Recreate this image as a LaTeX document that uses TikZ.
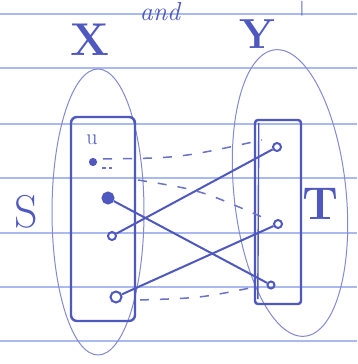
\documentclass[tikz,border=0pt]{standalone}
\usepackage{tikz}
\usetikzlibrary{shapes,positioning,calc}
\definecolor{pen}{RGB}{78,88,190}
\definecolor{paperline}{RGB}{170,186,238}

\begin{document}
\begin{tikzpicture}[x=1pt,y=-1pt,
  rule/.style={paperline, line width=1.2pt},
  setline/.style={draw=pen!70, line width=1pt, ellipse, inner sep=0pt},
  box/.style={draw=pen, line width=2.4pt, rectangle, rounded corners=6pt, inner sep=0pt},
  vtx/.style={draw=pen, line width=2pt, circle, inner sep=0pt, minimum size=8pt},
  fullvtx/.style={vtx, fill=pen},
  edge/.style={pen, line width=2pt},
  match/.style={pen!85, line width=1.5pt, dash pattern=on 9pt off 11pt},
  hand/.style={text=pen, inner sep=0pt}
]
\useasboundingbox (0,0) rectangle (357,364);
\fill[white] (0,0) rectangle (357,364);
\foreach \y in {14,68,124,178,233,287,341}
  \draw[rule] (0,\y) -- (357,\y);

\node[setline, minimum width=92pt, minimum height=286pt] (setX) at (98,212) {};
\node[setline, minimum width=112pt, minimum height=288pt, rotate=6] (setY) at (290,193) {};
\node[box, minimum width=64pt, minimum height=204pt] (boxS) at (103,219) {};
\node[box, minimum width=46pt, minimum height=184pt, rounded corners=3pt] (boxT) at (278,212) {};
\draw[pen, line width=1.4pt] ($(boxT.north west)+(5,4)$) -- ($(boxT.south west)+(4,-6)$);

\node[hand, font=\bfseries\fontsize{46}{46}\selectfont] (labX) at (90,40) {X};
\node[hand, font=\itshape\fontsize{26}{26}\selectfont] (labAnd) at (160,12) {and};
\node[hand, font=\bfseries\fontsize{42}{42}\selectfont] (labY) at (257,34) {Y};
\node[hand, font=\bfseries\fontsize{15}{15}\selectfont, anchor=north] (labBar) at (302,1) {|};
\node[hand, font=\fontsize{46}{46}\selectfont] (labS) at (26,212) {S};
\node[hand, font=\bfseries\fontsize{46}{46}\selectfont] (labT) at (320,204) {T};
\node[hand, font=\fontsize{22}{22}\selectfont] (labU) at (92,140) {u};

\node[fullvtx, minimum size=6pt] (u) at (93,162) {};
\node[fullvtx, minimum size=11pt] (s1) at (108,198) {};
\node[vtx] (s2) at (112,236) {};
\node[vtx, minimum size=11pt] (s3) at (116,297) {};
\node[vtx] (t1) at (277,147) {};
\node[vtx] (t2) at (278,224) {};
\node[vtx, minimum size=7pt] (t3) at (271,285) {};

\draw[edge] (s1) -- (t3);
\draw[edge] (s2) -- (t1);
\draw[edge] (s3) -- (t2);

\coordinate (m1) at (262,140);
\coordinate (m2a) at (138,180);
\coordinate (m2) at (262,217);
\coordinate (m3a) at (140,300);
\coordinate (m3) at (250,288);
\draw[match] (u.east) ++(6,-3) .. controls (180,158) .. (m1);
\draw[match, dash pattern=on 4pt off 3pt] (u.east) ++(5,6) -- ++(10,0);
\draw[match] (m2a) .. controls (200,190) .. (m2);
\draw[match] (m3a) .. controls (200,298) .. (m3);
\end{tikzpicture}
\end{document}
